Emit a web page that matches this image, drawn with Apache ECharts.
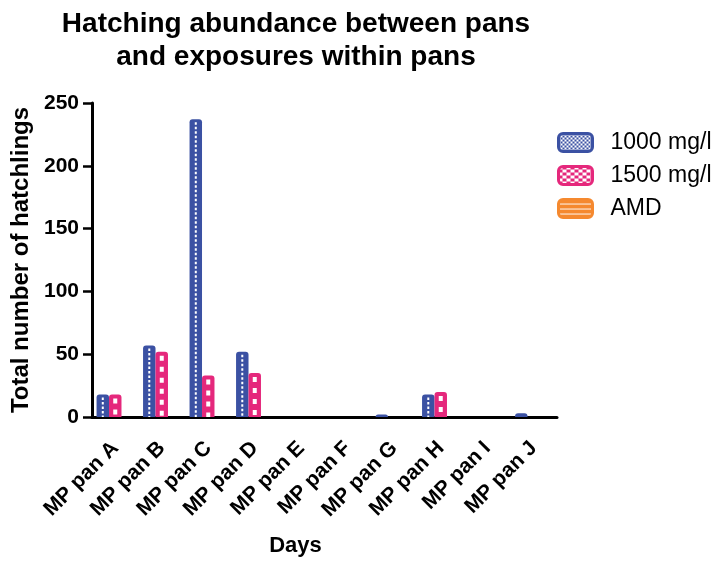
<!DOCTYPE html>
<html>
<head>
<meta charset="utf-8">
<script src="https://cdn.jsdelivr.net/npm/echarts@6/dist/echarts.min.js"></script>
<style>
  html, body { margin: 0; padding: 0; background: #fff; }
  #chart { width: 714px; height: 562px; }
</style>
</head>
<body>
<div id="chart"></div>
<script>
// Pans along the x axis
const pans = ['MP pan A', 'MP pan B', 'MP pan C', 'MP pan D', 'MP pan E',
              'MP pan F', 'MP pan G', 'MP pan H', 'MP pan I', 'MP pan J'];
// Hatchling counts per exposure
const dose1000 = [18, 57, 237, 52, 0, 0, 2, 18, 0, 3];
const dose1500 = [18, 52, 33, 35, 0, 0, 0, 20, 0, 0];
const amd = [0, 0, 0, 0, 0, 0, 0, 0, 0, 0];
// Y axis ticks
const yTicks = [0, 50, 100, 150, 200, 250];

const FONT = "'Liberation Sans', Arial, Helvetica, sans-serif";
const BLUE = '#3b51a3';
const PINK = '#e5287c';
const ORANGE = '#f5892f';

// Small repeating fills used in the legend swatches
function pattern(w, h, bg, draw) {
  const c = document.createElement('canvas');
  c.width = w; c.height = h;
  const g = c.getContext('2d');
  g.fillStyle = bg; g.fillRect(0, 0, w, h);
  g.fillStyle = '#fff';
  draw(g);
  return { image: c, repeat: 'repeat' };
}
const bluePat = pattern(4, 4, BLUE, g => { g.fillRect(0, 0, 2, 2); g.fillRect(2, 2, 2, 2); });
const pinkPat = pattern(8, 6, PINK, g => { g.fillRect(0, 0, 4, 3); g.fillRect(4, 3, 4, 3); });
const orangePat = pattern(4, 5, ORANGE, g => { g.fillRect(0, 4, 4, 1); });

const BAR_FRAC = 0.268;   // bar width as a share of one category band
const SLOTS = 3;          // bars per group (1000, 1500, AMD)

function barRenderer(slot, color, stripe) {
  return function (params, api) {
    const cat = api.value(0);
    const val = api.value(1);
    if (!(val > 0)) return null;
    const base = api.coord([cat, 0]);
    const top = api.coord([cat, val]);
    const band = api.size([1, 0])[0];
    const bw = band * BAR_FRAC;
    const x = base[0] - bw * SLOTS / 2 + slot * bw;
    const h = base[1] - top[1];
    const cx = x + bw / 2;
    const children = [{
      type: 'rect',
      shape: { x: x, y: top[1], width: bw, height: h, r: [3, 3, 0, 0] },
      style: { fill: color }
    }];
    if (h > 5) {
      children.push({
        type: 'line',
        shape: { x1: cx, y1: top[1] + stripe.start, x2: cx, y2: base[1] },
        style: { stroke: '#fff', lineWidth: stripe.width, lineDash: stripe.dash }
      });
    }
    return { type: 'group', children: children };
  };
}

const toPoints = arr => arr.map((v, i) => [i, v]);

const chart = echarts.init(document.getElementById('chart'), null, { renderer: 'canvas' });

chart.setOption({
  animation: false,
  backgroundColor: '#fff',
  graphic: [{
    type: 'text',
    x: 296, y: 8,
    style: {
      text: 'Hatching abundance between pans\nand exposures within pans',
      font: 'bold 28px ' + FONT,
      fill: '#000',
      textAlign: 'center',
      textVerticalAlign: 'top',
      lineHeight: 33
    }
  }],
  legend: {
    orient: 'vertical',
    left: 557, top: 131,
    itemWidth: 34, itemHeight: 18, itemGap: 10,
    padding: 0,
    icon: 'roundRect',
    textStyle: { fontFamily: FONT, fontSize: 23, color: '#000', padding: [0, 0, 0, 13] },
    data: [
      { name: '1000 mg/l', itemStyle: { color: bluePat, borderColor: BLUE, borderWidth: 3 } },
      { name: '1500 mg/l', itemStyle: { color: pinkPat, borderColor: PINK, borderWidth: 3 } },
      { name: 'AMD', itemStyle: { color: orangePat, borderColor: ORANGE, borderWidth: 3 } }
    ]
  },
  grid: { left: 92, right: 157, top: 103, bottom: 140 },
  xAxis: {
    type: 'category',
    data: pans,
    name: 'Days',
    nameLocation: 'middle',
    nameGap: 118,
    nameTextStyle: {
      fontFamily: FONT, fontSize: 22, fontWeight: 'bold', color: '#000',
      padding: [0, 58, 0, 0]
    },
    axisLine: { lineStyle: { color: '#000', width: 3 } },
    axisTick: { alignWithLabel: true, length: 9, lineStyle: { color: '#000', width: 2.5 } },
    axisLabel: {
      rotate: 45, margin: 28, interval: 0,
      fontFamily: FONT, fontSize: 21, fontWeight: 'bold', color: '#000'
    }
  },
  yAxis: {
    type: 'value',
    min: yTicks[0], max: yTicks[yTicks.length - 1], interval: 50,
    name: 'Total number of hatchlings',
    nameLocation: 'middle',
    nameGap: 52,
    nameTextStyle: {
      fontFamily: FONT, fontSize: 24, fontWeight: 'bold', color: '#000'
    },
    axisLine: { show: true, lineStyle: { color: '#000', width: 3 } },
    axisTick: { show: true, length: 9, lineStyle: { color: '#000', width: 2.5 } },
    splitLine: { show: false },
    axisLabel: { margin: 13, fontFamily: FONT, fontSize: 21, fontWeight: 'bold', color: '#000' }
  },
  series: [
    {
      name: '1000 mg/l', type: 'custom',
      itemStyle: { color: BLUE },
      encode: { x: 0, y: 1 },
      data: toPoints(dose1000),
      renderItem: barRenderer(0, BLUE, { start: 3, width: 2, dash: [2.5, 2] })
    },
    {
      name: '1500 mg/l', type: 'custom',
      itemStyle: { color: PINK },
      encode: { x: 0, y: 1 },
      data: toPoints(dose1500),
      renderItem: barRenderer(1, PINK, { start: 4, width: 4, dash: [5, 6] })
    },
    {
      name: 'AMD', type: 'custom',
      itemStyle: { color: ORANGE },
      encode: { x: 0, y: 1 },
      data: toPoints(amd),
      renderItem: barRenderer(2, ORANGE, { start: 3, width: 1, dash: [1, 3] })
    }
  ]
});
</script>
</body>
</html>
